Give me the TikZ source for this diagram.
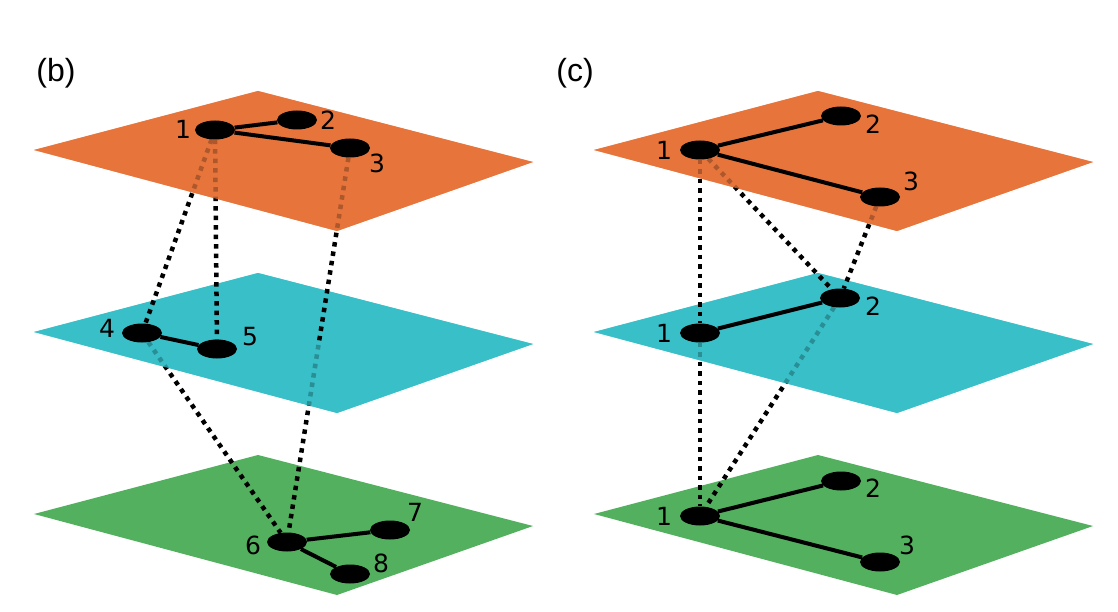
\documentclass[tikz,border=0pt]{standalone}
\usepackage{fontspec}
\setmainfont{DejaVu Sans}
\newfontfamily\panelfont{Liberation Sans}
\usetikzlibrary{shapes.geometric, calc}

\definecolor{sheetorange}{RGB}{231,117,59}
\definecolor{sheetcyan}{RGB}{56,191,200}
\definecolor{sheetgreen}{RGB}{83,176,94}

\pgfdeclarelayer{planes}
\pgfdeclarelayer{low}
\pgfdeclarelayer{midveil}
\pgfdeclarelayer{midnodes}
\pgfdeclarelayer{high}
\pgfdeclarelayer{topveil}
\pgfsetlayers{planes,low,midveil,midnodes,high,topveil,main}

% one layer sheet, shifted by (#2,#3)
\newcommand{\sheet}[4][]{\fill[#4, #1, shift={(#2,#3)}] (34,150) -- (258,91) -- (533,162) -- (337,231) -- cycle;}

\begin{document}
\begin{tikzpicture}[
    x=1pt, y=-1pt,
    vtx/.style={ellipse, fill=black, minimum width=40pt, minimum height=19pt, inner sep=0pt},
    num/.style={font=\fontsize{25}{28}\selectfont, inner sep=0pt},
    panel/.style={font=\panelfont\fontsize{32}{36}\selectfont, inner sep=0pt},
    link/.style={line width=4pt},
    tie/.style={line width=4.5pt, dash pattern=on 4.5pt off 5pt},
    veil/.style={opacity=0.75}
]
    \useasboundingbox (0,0) rectangle (1118,612);

    % Sheets
    \begin{pgfonlayer}{planes}
        \sheet{0}{0}{sheetorange}
        \sheet{0}{182}{sheetcyan}
        \sheet{0}{364}{sheetgreen}
        \sheet{560}{0}{sheetorange}
        \sheet{560}{182}{sheetcyan}
        \sheet{560}{364}{sheetgreen}
    \end{pgfonlayer}
    \begin{pgfonlayer}{midveil}
        \sheet[veil]{0}{182}{sheetcyan}
        \sheet[veil]{560}{182}{sheetcyan}
    \end{pgfonlayer}
    \begin{pgfonlayer}{topveil}
        \sheet[veil]{0}{0}{sheetorange}
        \sheet[veil]{560}{0}{sheetorange}
    \end{pgfonlayer}

    % Panel (b)
    \node[panel] (blabel) at (56,73) {(b)};

    \node[vtx] (b1) at (215,130) {};
    \node[vtx] (b2) at (297,120) {};
    \node[vtx] (b3) at (350,148) {};
    \draw[link] (b1) -- (b2);
    \draw[link] (b1) -- (b3);

    \begin{pgfonlayer}{midnodes}
        \node[vtx] (b4) at (142,333) {};
        \node[vtx] (b5) at (217,349) {};
        \draw[link] (b4) -- (b5);
    \end{pgfonlayer}

    \begin{pgfonlayer}{planes}
        \node[vtx] (b6) at (287,542) {};
        \node[vtx] (b7) at (390,530) {};
        \node[vtx] (b8) at (350,574) {};
        \draw[link] (b6) -- (b7);
        \draw[link] (b6) -- (b8);
    \end{pgfonlayer}

    \node[num] (n1) at (183,129) {1};
    \node[num] (n2) at (328,120) {2};
    \node[num] (n3) at (377,163) {3};
    \node[num] (n4) at (107,328) {4};
    \node[num] (n5) at (250,337) {5};
    \node[num] (n6) at (253,545) {6};
    \node[num] (n7) at (415,512) {7};
    \node[num] (n8) at (381,563) {8};

    \coordinate (b36) at ($(b3)!0.5!(b6)$);
    \begin{pgfonlayer}{high}
        \draw[tie] (b1) -- (b4);
        \draw[tie] (b1) -- (b5);
        \draw[tie] (b3) -- (b36);
    \end{pgfonlayer}
    \begin{pgfonlayer}{low}
        \draw[tie] (b4) -- (b6);
        \draw[tie] (b36) -- (b6);
    \end{pgfonlayer}

    % Panel (c)
    \node[panel] (clabel) at (575,73) {(c)};

    \node[vtx] (ct1) at (700,150) {};
    \node[vtx] (ct2) at (841,116) {};
    \node[vtx] (ct3) at (880,197) {};
    \draw[link] (ct1) -- (ct2);
    \draw[link] (ct1) -- (ct3);

    \begin{pgfonlayer}{midnodes}
        \node[vtx] (cm1) at (700,333) {};
        \node[vtx] (cm2) at (840,298) {};
        \draw[link] (cm1) -- (cm2);
    \end{pgfonlayer}

    \begin{pgfonlayer}{planes}
        \node[vtx] (cb1) at (700,516) {};
        \node[vtx] (cb2) at (841,481) {};
        \node[vtx] (cb3) at (880,562) {};
        \draw[link] (cb1) -- (cb2);
        \draw[link] (cb1) -- (cb3);
    \end{pgfonlayer}

    \node[num] (ct1n) at (664,150) {1};
    \node[num] (ct2n) at (873,124) {2};
    \node[num] (ct3n) at (911,181) {3};
    \node[num] (cm1n) at (664,333) {1};
    \node[num] (cm2n) at (873,306) {2};
    \node[num] (cb1n) at (664,516) {1};
    \node[num] (cb2n) at (873,488) {2};
    \node[num] (cb3n) at (907,545) {3};

    \begin{pgfonlayer}{high}
        \draw[tie] (ct1) -- (cm1);
        \draw[tie] (ct1) -- (cm2);
        \draw[tie] (ct3) -- (cm2);
    \end{pgfonlayer}
    \begin{pgfonlayer}{low}
        \draw[tie] (cm1) -- (cb1);
        \draw[tie] (cm2) -- (cb1);
    \end{pgfonlayer}

\end{tikzpicture}
\end{document}
